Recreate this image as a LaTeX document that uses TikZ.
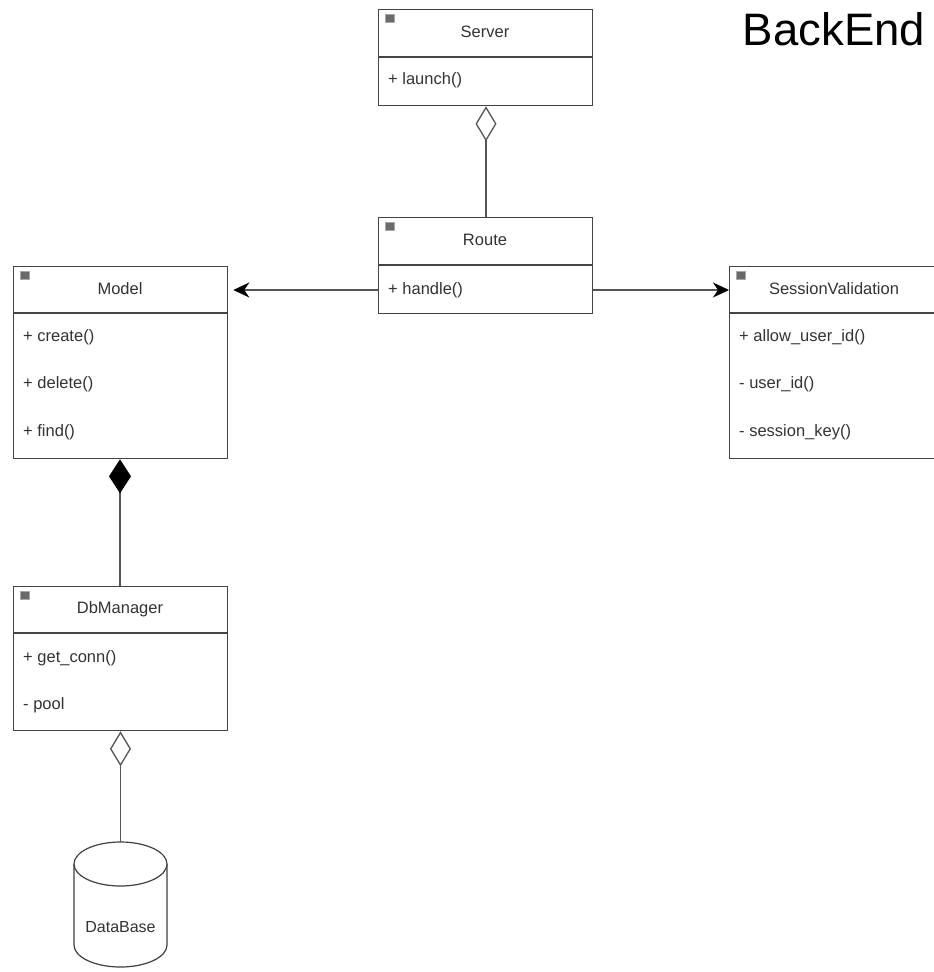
\documentclass[tikz,border=0pt]{standalone}
\usepackage{fontspec}
\setmainfont{Liberation Sans}
\usetikzlibrary{arrows.meta}

\definecolor{boxline}{HTML}{444444}
\definecolor{wireline}{HTML}{555555}
\definecolor{txt}{HTML}{333333}
\definecolor{iconfill}{HTML}{6A6A6A}
\definecolor{iconedge}{HTML}{A8A8A8}

\begin{document}
\begin{tikzpicture}[x=1pt,y=-1pt,
  classbox/.style={draw=boxline, line width=1.3pt, fill=white, inner sep=0pt,
                   anchor=north west, minimum width=214pt},
  divider/.style={draw=boxline, line width=1.3pt},
  title/.style={text=txt, font=\fontsize{16.5}{18}\selectfont, inner sep=0pt},
  member/.style={text=txt, font=\fontsize{16.5}{18}\selectfont, inner sep=0pt, anchor=west},
  icon/.style={draw=iconedge, fill=iconfill, line width=1.2pt, inner sep=0pt,
               minimum width=9pt, minimum height=8pt, anchor=north west},
  wire/.style={draw=wireline, line width=1.4pt},
  agg/.style={wire, {Diamond[open, length=35pt, width=21pt, line width=1.3pt]}-},
  comp/.style={wire, {Diamond[length=34pt, width=22pt, fill=black, black]}-},
  assoc/.style={wire, -{Stealth[length=16pt, width=15pt, inset=5pt, black, fill=black]}}
]
\useasboundingbox (0,0) rectangle (934,972);
\clip (0,0) rectangle (934,972);

% title
\node[text=black, font=\fontsize{45.5}{48}\selectfont, inner sep=0pt] (heading) at (834,29) {BackEnd};

% Server
\node[classbox, minimum height=96pt] (server) at (378,9) {};
\draw[divider] (378,57) -- (592,57);
\node[icon] (servericon) at (385,14) {};
\node[title] (servername) at (485,32) {Server};
\node[member] (serverlaunch) at (388,80) {+ launch()};

% Route
\node[classbox, minimum height=96pt] (route) at (378,217) {};
\draw[divider] (378,265) -- (592,265);
\node[icon] (routeicon) at (385,222) {};
\node[title] (routename) at (485,240) {Route};
\node[member] (routehandle) at (388,290) {+ handle()};

% Model
\node[classbox, minimum height=192pt] (model) at (13,266) {};
\draw[divider] (13,313) -- (227,313);
\node[icon] (modelicon) at (20,271) {};
\node[title] (modelname) at (120,289) {Model};
\node[member] (mcreate) at (23,337) {+ create()};
\node[member] (mdelete) at (23,384) {+ delete()};
\node[member] (mfind) at (23,432) {+ find()};

% SessionValidation
\node[classbox, minimum width=220pt, minimum height=192pt] (session) at (729,266) {};
\draw[divider] (729,313) -- (949,313);
\node[icon] (sessionicon) at (736,271) {};
\node[title] (sessionname) at (834,289) {SessionValidation};
\node[member] (sallow) at (739,337) {+ allow\_user\_id()};
\node[member] (suser) at (739,384) {- user\_id()};
\node[member] (skey) at (739,432) {- session\_key()};

% DbManager
\node[classbox, minimum height=144pt] (dbm) at (13,586) {};
\draw[divider] (13,633) -- (227,633);
\node[icon] (dbmicon) at (20,591) {};
\node[title] (dbmname) at (120,609) {DbManager};
\node[member] (dbconn) at (23,658) {+ get\_conn()};
\node[member] (dbpool) at (23,705) {- pool};

% DataBase cylinder
\coordinate (dbtop) at (120.5,842);
\draw[draw=black!75, line width=1.2pt, fill=white]
  (74,864) -- (74,945) arc[start angle=180, end angle=360, x radius=46.5pt, y radius=22pt]
  -- (167,864);
\draw[draw=black!75, line width=1.2pt, fill=white]
  (120.5,864) ellipse[x radius=46.5pt, y radius=22pt];
\node[text=txt, font=\fontsize{16}{18}\selectfont, inner sep=0pt] (dblabel) at (120.5,927) {DataBase};

% relations
\draw[agg] (server.south -| 486,0) -- (route.north -| 486,0);
\draw[comp] (model.south -| 120,0) -- (dbm.north -| 120,0);
\draw[agg] (dbm.south -| dbtop) -- (dbtop);
\draw[assoc] (route.west |- 0,290) -- ([xshift=5pt]model.east |- 0,290);
\draw[assoc] (route.east |- 0,290) -- (session.west |- 0,290);
\end{tikzpicture}
\end{document}
